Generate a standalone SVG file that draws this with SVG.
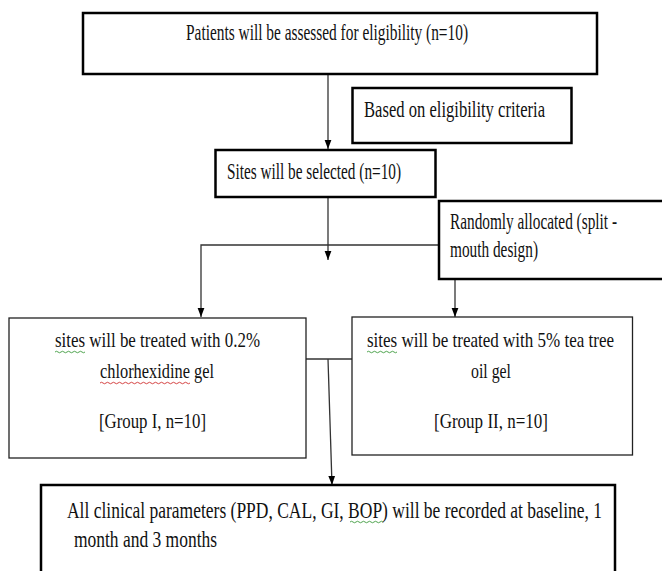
<svg xmlns="http://www.w3.org/2000/svg" width="662" height="571" viewBox="0 0 662 571">
<defs>
<style>
.t{font-family:"Liberation Serif","Times New Roman",serif;font-size:23px;fill:#111}
.m{font-size:22px}
.b{font-size:24px}
.thick{fill:#fff;stroke:#000;stroke-width:2.5}
.thin{fill:#fff;stroke:#222;stroke-width:1.3}
.c{fill:none;stroke:#333;stroke-width:1.3}
.sg{fill:none;stroke:#3c9a3c;stroke-width:0.9}
.sr{fill:none;stroke:#d03030;stroke-width:0.9}
</style>
<marker id="ah" markerUnits="userSpaceOnUse" markerWidth="9" markerHeight="13" refX="12" refY="4.5" orient="auto" viewBox="0 0 12 9">
<path d="M0,0 L12,4.5 L0,9 Z" fill="#000"/>
</marker>
</defs>
<rect width="662" height="571" fill="#fff"/>
<g id="connectors">
<line class="c" x1="328" y1="74" x2="328" y2="149" marker-end="url(#ah)"/>
<line class="c" x1="328" y1="197" x2="328" y2="260" marker-end="url(#ah)"/>
<polyline class="c" points="439,245 201,245 201,317" marker-end="url(#ah)"/>
<line class="c" x1="455" y1="279" x2="455" y2="317" marker-end="url(#ah)"/>
<line class="c" x1="306" y1="359" x2="352" y2="359"/>
<line class="c" x1="328" y1="359" x2="332" y2="485" marker-end="url(#ah)"/>
</g>
<g id="n1">
<rect class="thick" x="83" y="13" width="514" height="61"/>
<text class="t" x="186" y="40" textLength="282" lengthAdjust="spacingAndGlyphs">Patients will be assessed for eligibility (n=10)</text>
</g>
<g id="n2">
<rect class="thick" x="352.5" y="88" width="219" height="55"/>
<text class="t" x="364" y="117" textLength="181" lengthAdjust="spacingAndGlyphs">Based on eligibility  criteria</text>
</g>
<g id="n3">
<rect class="thick" x="215.5" y="150" width="220" height="47"/>
<text class="t" x="227" y="179" textLength="174" lengthAdjust="spacingAndGlyphs">Sites will be selected (n=10)</text>
</g>
<g id="n4">
<rect class="thick" x="439" y="201" width="240" height="78"/>
<text class="t" x="450" y="229" textLength="167" lengthAdjust="spacingAndGlyphs">Randomly allocated (split -</text>
<text class="t" x="450" y="257" textLength="88" lengthAdjust="spacingAndGlyphs">mouth design)</text>
</g>
<g id="n5">
<rect class="thin" x="9" y="318" width="297" height="140"/>
<text class="t m" x="55" y="347" textLength="205" lengthAdjust="spacingAndGlyphs">sites will be treated with 0.2%</text>
<text class="t m" x="100" y="378" textLength="114" lengthAdjust="spacingAndGlyphs">chlorhexidine gel</text>
<text class="t m" x="99" y="428" textLength="107" lengthAdjust="spacingAndGlyphs">[Group I, n=10]</text>
<path class="sg" d="M55,352 q1.5,-1.5 3,0 t3,0 t3,0 t3,0 t3,0 t3,0 t3,0 t3,0 t3,0 t3,0"/>
<path class="sr" d="M100,383 q1.5,-1.5 3,0 t3,0 t3,0 t3,0 t3,0 t3,0 t3,0 t3,0 t3,0 t3,0 t3,0 t3,0 t3,0 t3,0 t3,0 t3,0 t3,0 t3,0 t3,0 t3,0 t3,0 t3,0 t3,0 t3,0 t3,0 t3,0 t3,0 t3,0 t3,0 t3,0"/>
</g>
<g id="n6">
<rect class="thin" x="352" y="317" width="280.5" height="138"/>
<text class="t m" x="367" y="347" textLength="247" lengthAdjust="spacingAndGlyphs">sites will be treated with 5% tea tree</text>
<text class="t m" x="471" y="378" textLength="40" lengthAdjust="spacingAndGlyphs">oil gel</text>
<text class="t m" x="434" y="428" textLength="114" lengthAdjust="spacingAndGlyphs">[Group II, n=10]</text>
<path class="sg" d="M367,352 q1.5,-1.5 3,0 t3,0 t3,0 t3,0 t3,0 t3,0 t3,0 t3,0 t3,0 t3,0"/>
</g>
<g id="n7">
<rect class="thick" x="41" y="485" width="574" height="100"/>
<text class="t b" x="67" y="518" textLength="535" lengthAdjust="spacingAndGlyphs">All clinical parameters (PPD, CAL, GI, BOP) will be recorded at baseline, 1</text>
<text class="t b" x="74" y="547" textLength="143" lengthAdjust="spacingAndGlyphs">month and 3 months</text>
<path class="sg" d="M350,522 q1.5,-1.5 3,0 t3,0 t3,0 t3,0 t3,0 t3,0 t3,0 t3,0 t3,0 t3,0 t3,0"/>
</g>
</svg>
